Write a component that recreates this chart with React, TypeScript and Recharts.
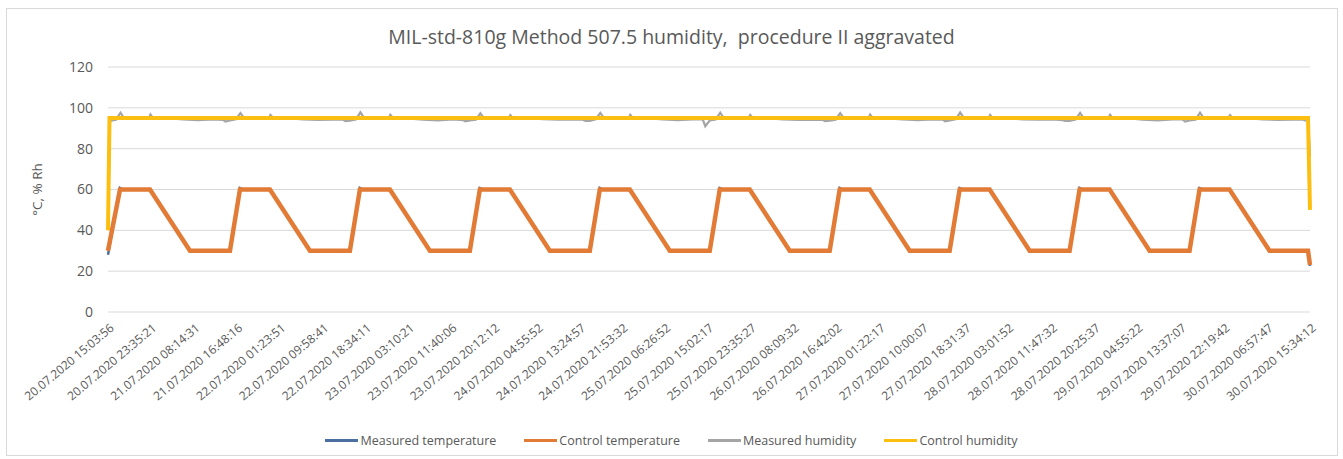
import { LineChart, Line, XAxis, YAxis, CartesianGrid, Legend } from 'recharts';

// hours since 20.07.2020 15:03:56, one entry per category label
const tickHours = [
  0, 8.524, 17.176, 25.739, 34.332, 42.913, 51.504, 60.107, 68.603, 77.138,
  85.866, 94.35, 102.827, 111.382, 119.973, 128.525, 137.093, 145.635, 154.306,
  162.936, 171.461, 179.966, 188.727, 197.361, 205.857, 214.553, 223.263, 231.898, 240.504,
];
const tickLabels = [
  '20.07.2020 15:03:56', '20.07.2020 23:35:21', '21.07.2020 08:14:31', '21.07.2020 16:48:16',
  '22.07.2020 01:23:51', '22.07.2020 09:58:41', '22.07.2020 18:34:11', '23.07.2020 03:10:21',
  '23.07.2020 11:40:06', '23.07.2020 20:12:12', '24.07.2020 04:55:52', '24.07.2020 13:24:57',
  '24.07.2020 21:53:32', '25.07.2020 06:26:52', '25.07.2020 15:02:17', '25.07.2020 23:35:27',
  '26.07.2020 08:09:32', '26.07.2020 16:42:02', '27.07.2020 01:22:17', '27.07.2020 10:00:07',
  '27.07.2020 18:31:37', '28.07.2020 03:01:52', '28.07.2020 11:47:32', '28.07.2020 20:25:37',
  '29.07.2020 04:55:22', '29.07.2020 13:37:07', '29.07.2020 22:19:42', '30.07.2020 06:57:47',
  '30.07.2020 15:34:12',
];

const controlTempHours = [
  0, 2.4, 8.4, 16.4, 24.4, 26.4, 32.4, 40.4, 48.4, 50.4, 56.4, 64.4, 72.4, 74.4, 80.4, 88.4,
  96.4, 98.4, 104.4, 112.4, 120.4, 122.4, 128.4, 136.4, 144.4, 146.4, 152.4, 160.4, 168.4,
  170.4, 176.4, 184.4, 192.4, 194.4, 200.4, 208.4, 216.4, 218.4, 224.4, 232.4, 240.1, 240.5,
];
const controlTempValues = [
  30, 60, 60, 30, 30, 60, 60, 30, 30, 60, 60, 30, 30, 60, 60, 30,
  30, 60, 60, 30, 30, 60, 60, 30, 30, 60, 60, 30, 30,
  60, 60, 30, 30, 60, 60, 30, 30, 60, 60, 30, 30, 23,
];

const measuredTempHours = [
  0, 2.4, 3.0, 8.4, 16.4, 24.4, 26.4, 27.0, 32.4, 40.4, 48.4, 50.4, 51.0, 56.4, 64.4, 72.4,
  74.4, 75.0, 80.4, 88.4, 96.4, 98.4, 99.0, 104.4, 112.4, 120.4, 122.4, 123.0, 128.4, 136.4,
  144.4, 146.4, 147.0, 152.4, 160.4, 168.4, 170.4, 171.0, 176.4, 184.4, 192.4, 194.4, 195.0,
  200.4, 208.4, 216.4, 218.4, 219.0, 224.4, 232.4, 240.1, 240.5,
];
const measuredTempValues = [
  28, 60.8, 60, 60, 30, 30, 60.7, 60, 60, 30, 30, 60.8, 60, 60, 30, 30,
  60.7, 60, 60, 30, 30, 60.8, 60, 60, 30, 30, 60.7, 60, 60, 30,
  30, 60.8, 60, 60, 30, 30, 60.7, 60, 60, 30, 30, 60.8, 60,
  60, 30, 30, 60.7, 60, 60, 30, 30, 22.6,
];

const measuredHumHours = [
  0,
  0.4, 1.6, 2.5, 3.2, 5.0, 8.2, 8.5, 9.0, 12.0, 15.0, 18.0, 21.0, 23.0, 23.5,
  24.4, 25.6, 26.5, 27.2, 29.0, 32.2, 32.5, 33.0, 36.0, 39.0, 42.0, 45.0, 47.0, 47.5,
  48.4, 49.6, 50.5, 51.2, 53.0, 56.2, 56.5, 57.0, 60.0, 63.0, 66.0, 69.0, 71.0, 71.5,
  72.4, 73.6, 74.5, 75.2, 77.0, 80.2, 80.5, 81.0, 84.0, 87.0, 90.0, 93.0, 95.0, 95.5,
  96.4, 97.6, 98.5, 99.2, 101.0, 104.2, 104.5, 105.0, 108.0, 111.0, 114.0, 117.0, 119.0, 119.5,
  120.4, 121.6, 122.5, 123.2, 125.0, 128.2, 128.5, 129.0, 132.0, 135.0, 138.0, 141.0, 143.0, 143.5,
  144.4, 145.6, 146.5, 147.2, 149.0, 152.2, 152.5, 153.0, 156.0, 159.0, 162.0, 165.0, 167.0, 167.5,
  168.4, 169.6, 170.5, 171.2, 173.0, 176.2, 176.5, 177.0, 180.0, 183.0, 186.0, 189.0, 191.0, 191.5,
  192.4, 193.6, 194.5, 195.2, 197.0, 200.2, 200.5, 201.0, 204.0, 207.0, 210.0, 213.0, 215.0, 215.5,
  216.4, 217.6, 218.5, 219.2, 221.0, 224.2, 224.5, 225.0, 228.0, 231.0, 234.0, 237.0, 239.0, 239.5,
  240.1, 240.5,
];
const measuredHumValues = [
  41,
  93.6, 94.2, 97.6, 95.0, 94.8, 95.1, 96.7, 95.0, 94.9, 94.3, 94.0, 94.4, 94.1, 93.3,
  93.8, 94.4, 97.4, 95.1, 94.7, 95.0, 96.5, 95.1, 95.0, 94.4, 94.1, 94.2, 94.3, 93.5,
  93.7, 94.3, 97.8, 95.2, 94.9, 95.2, 96.6, 95.0, 94.8, 94.2, 93.9, 94.3, 94.0, 93.4,
  93.9, 94.2, 97.3, 95.0, 94.8, 95.1, 96.4, 95.0, 94.9, 94.5, 94.2, 94.4, 94.2, 93.6,
  93.6, 94.4, 97.5, 95.1, 94.6, 95.0, 96.6, 95.1, 94.9, 94.3, 94.0, 94.3, 94.4, 91.0,
  93.8, 94.3, 97.6, 95.0, 94.8, 95.2, 96.5, 95.0, 95.0, 94.4, 94.1, 94.2, 94.1, 93.5,
  93.7, 94.2, 97.4, 95.1, 94.7, 95.1, 96.7, 95.1, 94.8, 94.3, 94.0, 94.4, 94.2, 93.4,
  93.9, 94.4, 97.7, 95.2, 94.9, 95.0, 96.5, 95.0, 94.9, 94.4, 94.2, 94.3, 94.0, 93.6,
  93.6, 94.3, 97.5, 95.0, 94.8, 95.1, 96.6, 95.1, 95.0, 94.2, 93.9, 94.4, 94.3, 93.3,
  93.8, 94.2, 97.6, 95.1, 94.7, 95.2, 96.4, 95.0, 94.9, 94.3, 94.1, 94.2, 94.4, 93.8,
  94.6, 76,
];

const controlHumHours = [0, 0.3, 240.1, 240.5];
const controlHumValues = [40, 95, 95, 50];

const yTicks = [0, 20, 40, 60, 80, 100, 120];

const series = [
  { name: 'Measured temperature', color: '#4a6fa0', width: 2.5, hours: measuredTempHours, values: measuredTempValues },
  { name: 'Control temperature', color: '#e27b36', width: 4.5, hours: controlTempHours, values: controlTempValues },
  { name: 'Measured humidity', color: '#a5a5a5', width: 2.25, hours: measuredHumHours, values: measuredHumValues },
  { name: 'Control humidity', color: '#fcbf10', width: 4, hours: controlHumHours, values: controlHumValues },
];

const FONT = '"Open Sans", sans-serif';
const TEXT = '#595959';

const DateTick = (props: any) => {
  const { x, y, payload } = props;
  const idx = tickHours.indexOf(payload.value);
  return (
    <g transform={`translate(${x + 4},${y + 6})`}>
      <text x={0} y={0} dy="0.35em" textAnchor="end" transform="rotate(-40)" fill={TEXT} fontSize={12} fontFamily={FONT}>
        {tickLabels[idx]}
      </text>
    </g>
  );
};

const LegendBox = () => (
  <div style={{ display: 'flex', justifyContent: 'center', gap: 28, fontFamily: FONT, fontSize: 12.5, color: TEXT, height: 20, alignItems: 'center' }}>
    {series.map((s) => (
      <div key={s.name} style={{ display: 'flex', alignItems: 'center' }}>
        <span style={{ display: 'inline-block', width: 33, height: 3, background: s.color, marginRight: 2 }} />
        <span>{s.name}</span>
      </div>
    ))}
  </div>
);

export default function App() {
  return (
    <div style={{ position: 'absolute', left: 0, top: 0, width: 1343, height: 459, background: '#fff' }}>
      <div style={{ position: 'absolute', left: 6, top: 8, width: 1330, height: 446, border: '1px solid #d9d9d9' }} />
      <div style={{ position: 'absolute', left: 0, top: 23, width: 1343, textAlign: 'center', fontFamily: FONT, fontSize: 19.5, color: TEXT }}>
        MIL-std-810g Method 507.5 humidity,&nbsp; procedure II aggravated
      </div>
      <LineChart width={1343} height={459} margin={{ top: 67, right: 33, left: 0, bottom: 0 }}>
        <CartesianGrid vertical={false} stroke="#d9d9d9" strokeWidth={1} />
        <XAxis
          dataKey="h"
          type="number"
          domain={[0, 240.5]}
          ticks={tickHours}
          interval={0}
          axisLine={false}
          tickLine={false}
          height={127}
          tick={<DateTick />}
          allowDuplicatedCategory={false}
        />
        <YAxis
          domain={[0, 120]}
          ticks={yTicks}
          axisLine={false}
          tickLine={false}
          width={108}
          tickMargin={9}
          tick={{ fill: TEXT, fontSize: 14, fontFamily: FONT }}
          label={({ viewBox }: any) => (
            <text
              x={viewBox.x + 38}
              y={viewBox.y + viewBox.height / 2}
              transform={`rotate(-90 ${viewBox.x + 38} ${viewBox.y + viewBox.height / 2})`}
              textAnchor="middle"
              dominantBaseline="middle"
              fill={TEXT}
              fontSize={13.5}
              fontFamily={FONT}
            >
              °C, % Rh
            </text>
          )}
        />
        {series.map((s) => (
          <Line
            key={s.name}
            name={s.name}
            data={s.hours.map((h, i) => ({ h, v: s.values[i] }))}
            dataKey="v"
            stroke={s.color}
            strokeWidth={s.width}
            dot={false}
            activeDot={false}
            strokeLinejoin="miter"
            isAnimationActive={false}
          />
        ))}
        <Legend verticalAlign="bottom" content={<LegendBox />} wrapperStyle={{ left: 0, width: 1343, bottom: 9 }} />
      </LineChart>
    </div>
  );
}
